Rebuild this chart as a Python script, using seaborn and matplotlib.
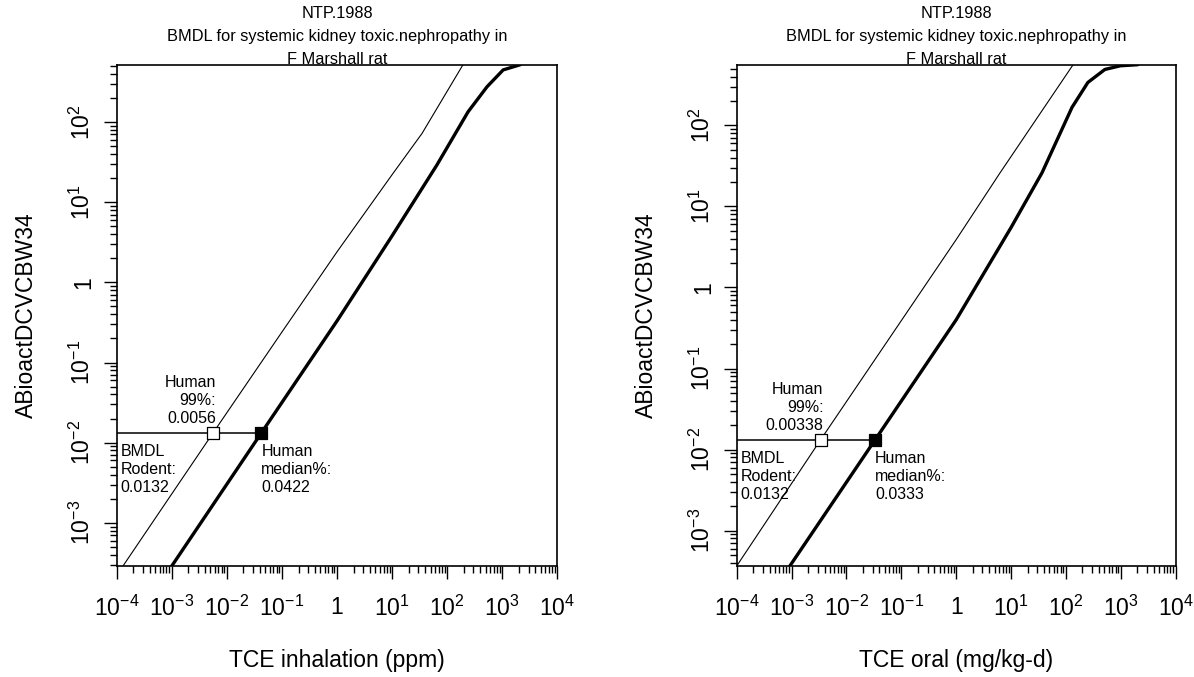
import numpy as np
import pandas as pd
import matplotlib
matplotlib.use("Agg")
import matplotlib.pyplot as plt
import seaborn as sns
from matplotlib.ticker import FixedLocator, NullFormatter

sns.set_theme(style="white")
plt.rcParams['font.family'] = ['Liberation Sans', 'DejaVu Sans']
plt.rcParams['mathtext.fontset'] = 'custom'
plt.rcParams['mathtext.rm'] = 'Liberation Sans'
plt.rcParams['mathtext.it'] = 'Liberation Sans'
plt.rcParams['mathtext.default'] = 'regular'
for key in ['text.color', 'axes.labelcolor', 'xtick.color', 'ytick.color', 'axes.edgecolor']:
    plt.rcParams[key] = 'black'

# ---------------- data ----------------
title_lines = ["NTP.1988", "BMDL for systemic kidney toxic.nephropathy in", "F Marshall rat"]
y_label = "ABioactDCVCBW34"
x_labels = ["TCE inhalation (ppm)", "TCE oral (mg/kg-d)"]

bmdl_rodent = 0.0132
human99 = [0.0056, 0.00338]
human_median = [0.0422, 0.0333]
human99_text = ["0.0056", "0.00338"]
human_median_text = ["0.0422", "0.0333"]

left_thin_x = [1.3e-4, 1e-3, 0.0056, 0.1, 1, 10, 35, 194]
left_thin_y = [2.9e-4, 2.3e-3, 0.0132, 0.24, 2.4, 22, 72, 518]
left_thick_x = [1e-3, 0.0422, 1, 10, 65, 240, 530, 1040, 2130]
left_thick_y = [2.9e-4, 0.0132, 0.33, 3.8, 29, 134, 275, 446, 518]

right_thin_x = [1e-4, 0.00338, 1, 6.3, 135]
right_thin_y = [3.66e-4, 0.0132, 3.9, 26, 561]
right_thick_x = [9.3e-4, 0.0333, 1, 10, 36.6, 129, 251, 512, 980, 2030]
right_thick_y = [3.66e-4, 0.0132, 0.40, 5.5, 26, 167, 339, 490, 544, 561]

y_limits = [(2.9e-4, 518), (3.66e-4, 561)]
x_limits = (1e-4, 1e4)

x_tick_vals = [1e-4, 1e-3, 1e-2, 1e-1, 1, 1e1, 1e2, 1e3, 1e4]
x_tick_labels = [r"$10^{-4}$", r"$10^{-3}$", r"$10^{-2}$", r"$10^{-1}$", "1",
                 r"$10^{1}$", r"$10^{2}$", r"$10^{3}$", r"$10^{4}$"]
y_tick_vals = [1e-3, 1e-2, 1e-1, 1, 1e1, 1e2]
y_tick_labels = [r"$10^{-3}$", r"$10^{-2}$", r"$10^{-1}$", "1", r"$10^{1}$", r"$10^{2}$"]

# ---------------- figure ----------------
W, H = 1194, 677
fig = plt.figure(figsize=(W / 100, H / 100), dpi=100)
fig.patch.set_facecolor("white")

axes_px = [(116.7, 557.3), (736.7, 1175.7)]
top_px, bot_px = 64.7, 566.0

panels = [
    (left_thin_x, left_thin_y, left_thick_x, left_thick_y),
    (right_thin_x, right_thin_y, right_thick_x, right_thick_y),
]

minor_vals = [m * 10.0 ** e for e in range(-5, 5) for m in range(2, 10)]

for i, (tx, ty, kx, ky) in enumerate(panels):
    x0, x1 = axes_px[i]
    ax = fig.add_axes([x0 / W, 1 - bot_px / H, (x1 - x0) / W, (bot_px - top_px) / H])
    ax.set_facecolor("white")

    df_thin = pd.DataFrame({"x": tx, "y": ty})
    df_thick = pd.DataFrame({"x": kx, "y": ky})
    sns.lineplot(data=df_thin, x="x", y="y", ax=ax, color="black", linewidth=0.8,
                 sort=False, estimator=None)
    sns.lineplot(data=df_thick, x="x", y="y", ax=ax, color="black", linewidth=2.4,
                 sort=False, estimator=None)

    # BMDL horizontal line
    hl = pd.DataFrame({"x": [x_limits[0], human_median[i]], "y": [bmdl_rodent, bmdl_rodent]})
    sns.lineplot(data=hl, x="x", y="y", ax=ax, color="black", linewidth=1.1,
                 sort=False, estimator=None)

    # markers
    ax.scatter([human99[i]], [bmdl_rodent], marker="s", s=70, facecolors="white",
               edgecolors="black", linewidths=0.9, zorder=5)
    ax.scatter([human_median[i]], [bmdl_rodent], marker="s", s=70, facecolors="black",
               edgecolors="black", linewidths=0.9, zorder=5)

    ax.set_xscale("log")
    ax.set_yscale("log")
    ax.set_xlim(*x_limits)
    ax.set_ylim(*y_limits[i])

    ax.xaxis.set_major_locator(FixedLocator(x_tick_vals))
    ax.set_xticklabels(x_tick_labels, fontsize=16.5)
    ax.xaxis.set_minor_locator(FixedLocator(minor_vals))
    ax.xaxis.set_minor_formatter(NullFormatter())
    ax.yaxis.set_major_locator(FixedLocator(y_tick_vals))
    ax.set_yticklabels(y_tick_labels, fontsize=16.5, rotation=90, va="center")
    ax.yaxis.set_minor_locator(FixedLocator(minor_vals))
    ax.yaxis.set_minor_formatter(NullFormatter())

    ax.tick_params(axis="x", which="major", direction="out", length=9.5, width=1.0,
                   color="black", bottom=True, pad=12)
    ax.tick_params(axis="y", which="major", direction="out", length=9.5, width=1.0,
                   color="black", left=True, pad=6)
    ax.tick_params(which="minor", direction="out", length=5, width=1.0, color="black",
                   bottom=True, left=True)
    for sp in ax.spines.values():
        sp.set_color("black")
        sp.set_linewidth(1.2)
        sp.set_visible(True)

    ax.set_xlabel(x_labels[i], fontsize=16.5, labelpad=20)
    ax.set_ylabel(y_label, fontsize=16.5, labelpad=23)

    # title lines
    cx = (x0 + x1) / 2 / W
    for j, (line, base) in enumerate(zip(title_lines, [18.5, 41.5, 64.5])):
        fig.text(cx, 1 - base / H, line, ha="center", va="baseline", fontsize=11.8)

    # annotations
    ax.annotate("Human\n99%:\n" + human99_text[i], xy=(human99[i], bmdl_rodent),
                xytext=(2, 5), textcoords="offset points", ha="right", va="bottom",
                multialignment="right", fontsize=11.5, linespacing=1.25)
    ax.annotate("BMDL\nRodent:\n" + "0.0132", xy=(x_limits[0], bmdl_rodent),
                xytext=(3, -8), textcoords="offset points", ha="left", va="top",
                fontsize=11.5, linespacing=1.25)
    ax.annotate("Human\nmedian%:\n" + human_median_text[i], xy=(human_median[i], bmdl_rodent),
                xytext=(0, -8), textcoords="offset points", ha="left", va="top",
                fontsize=11.5, linespacing=1.25)

fig.savefig("out.png", dpi=100, facecolor="white")
